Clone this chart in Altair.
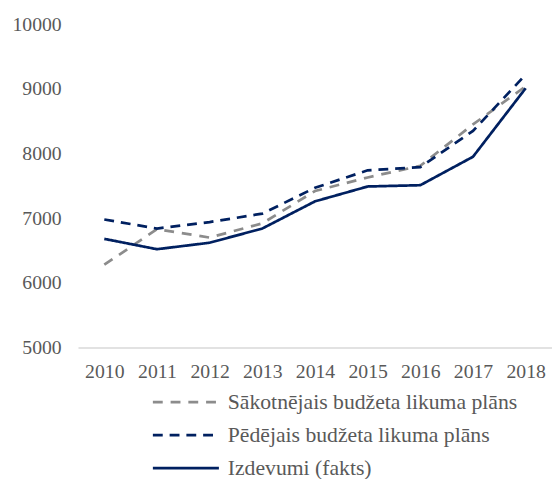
import altair as alt
import pandas as pd

years = [2010, 2011, 2012, 2013, 2014, 2015, 2016, 2017, 2018]
sakotnejais = [6280, 6830, 6700, 6920, 7420, 7630, 7810, 8450, 9040]
pedejais = [6980, 6840, 6940, 7070, 7470, 7740, 7790, 8350, 9220]
fakts = [6680, 6520, 6620, 6840, 7260, 7490, 7510, 7950, 9010]

series_names = [
    "Sākotnējais budžeta likuma plāns",
    "Pēdējais budžeta likuma plāns",
    "Izdevumi (fakts)",
]
series_values = [sakotnejais, pedejais, fakts]
y_ticks = [5000, 6000, 7000, 8000, 9000, 10000]

rows = []
for name, vals in zip(series_names, series_values):
    for yr, v in zip(years, vals):
        rows.append({"year": yr, "value": v, "series": name})
df = pd.DataFrame(rows)

FONT = "Liberation Serif"
TEXT = "#595959"

legend = alt.Legend(
    title=None,
    orient="none",
    legendX=91,
    legendY=365,
    symbolType="M-2,0H2",
    symbolSize=1122,
    symbolStrokeWidth=2.75,
    labelOffset=24,
    rowPadding=3.5,
    padding=0,
)

chart = (
    alt.Chart(df)
    .mark_line(strokeWidth=2.75)
    .encode(
        x=alt.X(
            "year:Q",
            scale=alt.Scale(domain=[years[0] - 0.5, years[-1] + 0.5], nice=False, zero=False),
            axis=alt.Axis(
                title=None,
                values=years,
                format="d",
                labelAngle=0,
                ticks=False,
                domainColor="#d9d9d9",
                domainWidth=1.5,
                labelPadding=14,
                labelFlush=False,
                grid=False,
            ),
        ),
        y=alt.Y(
            "value:Q",
            scale=alt.Scale(domain=[5000, 10000], nice=False, zero=False),
            axis=alt.Axis(
                title=None,
                values=y_ticks,
                format="d",
                ticks=False,
                domain=False,
                grid=False,
                labelPadding=17,
            ),
        ),
        color=alt.Color(
            "series:N",
            scale=alt.Scale(domain=series_names, range=["#8c8c8c", "#002060", "#002060"]),
            legend=legend,
        ),
        strokeDash=alt.StrokeDash(
            "series:N",
            scale=alt.Scale(domain=series_names, range=[[10, 8], [10, 7], [1, 0]]),
            legend=legend,
        ),
    )
    .properties(
        width=481,
        height=328,
        autosize=alt.AutoSizeParams(type="none"),
        padding={"left": 71, "top": 13, "right": 0, "bottom": 130},
    )
    .configure_view(stroke=None)
    .configure_axis(
        labelFont=FONT,
        labelFontSize=20,
        labelColor=TEXT,
    )
    .configure_legend(
        labelFont=FONT,
        labelFontSize=22,
        labelColor=TEXT,
        labelLimit=400,
    )
)

chart.save("out.html", embed_options={"renderer": "svg", "actions": False})
